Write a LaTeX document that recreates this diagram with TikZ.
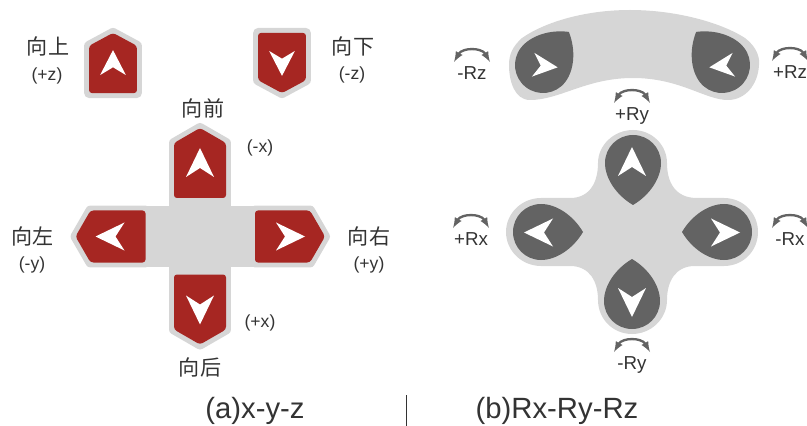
\documentclass[tikz,border=0pt]{standalone}
\usepackage{fontspec}
\setmainfont{Liberation Sans}
\newfontfamily\cjk{Noto Sans CJK SC}
\usetikzlibrary{arrows}
\definecolor{keyred}{HTML}{A62622}
\definecolor{keydark}{HTML}{636363}
\definecolor{padgray}{HTML}{D6D6D6}
\definecolor{textgray}{HTML}{333333}
\tikzset{
  cnlabel/.style = {font = \cjk\fontsize{18}{18}\selectfont, text = textgray, inner sep = 0},
  axislabel/.style = {font = \fontsize{15}{15}\selectfont, text = textgray, inner sep = 0},
  rotlabel/.style = {font = \fontsize{16}{16}\selectfont, text = textgray, inner sep = 0, text height = 10pt, text depth = 0pt},
  caption/.style = {font = \fontsize{25}{25}\selectfont, text = textgray, inner sep = 0},
  rotarrow/.style = {draw = keydark, line width = 2pt, <->, >=latex, bend left = 60, looseness = 1.2},
  glyph/.pic = {\fill[white] (0, -15) -- (14, 14) -- (0, 5) -- (-14, 14) -- cycle;},
  redkey/.pic = {
    \draw[padgray, line width = 8.5pt, line join = round] (0, -35) -- (26, -20) -- (26, 35) -- (-26, 35) -- (-26, -20) -- cycle;
    \fill[keyred, rounded corners = 2.5pt] (0, -35) -- (26, -20) -- (26, 35) -- (-26, 35) -- (-26, -20) -- cycle;
    \fill[white] (0, -15) -- (14, 14) -- (0, 5) -- (-14, 14) -- cycle;
  },
  drop/.pic = {\fill[keydark] (0, 42) .. controls (-17, 32) and (-28, 15) .. (-28, 0) .. controls (-28, -15.5) and (-15.5, -28) .. (0, -28) .. controls (15.5, -28) and (28, -15.5) .. (28, 0) .. controls (28, 15) and (17, 32) .. (0, 42);}
}
\begin{document}
\begin{tikzpicture}[x = 0.03cm, y = -0.03cm]
  \useasboundingbox (0, 0) rectangle (807, 426);

  \fill[padgray] (145, 206) rectangle (255, 267);
  \fill[padgray] (169, 190) rectangle (231, 283);
  \pic[xscale = 0.92, yscale = 0.86] (keyup) at (113, 63) {redkey};
  \pic[rotate = 180, xscale = 0.92, yscale = 0.86] (keydown) at (282, 63) {redkey};
  \pic (keyfront) at (200, 163) {redkey};
  \pic[rotate = 180] (keyback) at (200, 309.5) {redkey};
  \pic[rotate = 90] (keyleft) at (110.5, 236.5) {redkey};
  \pic[rotate = -90] (keyright) at (290, 236.5) {redkey};

  \node[cnlabel] (up) at (48, 46) {向上};
  \node[axislabel] (upaxis) at (47, 76) {(+z)};
  \node[cnlabel] (down) at (353, 46) {向下};
  \node[axislabel] (downaxis) at (352, 75) {(-z)};
  \node[cnlabel] (front) at (203, 108) {向前};
  \node[axislabel] (frontaxis) at (260, 148) {(-x)};
  \node[cnlabel] (left) at (33, 236) {向左};
  \node[axislabel] (leftaxis) at (32, 265) {(-y)};
  \node[cnlabel] (right) at (369, 236) {向右};
  \node[axislabel] (rightaxis) at (369, 265) {(+y)};
  \node[cnlabel] (back) at (200, 367) {向后};
  \node[axislabel] (backaxis) at (260, 323) {(+x)};

  \fill[padgray] (630, 10) .. controls (675, 10) and (720, 22) .. (745, 38) .. controls (757, 47) and (760, 58) .. (759, 65) .. controls (758, 85) and (745, 100) .. (728, 100) .. controls (705, 100) and (680, 78) .. (633, 78) .. controls (586, 78) and (560, 100) .. (530, 100) .. controls (515, 100) and (509, 82) .. (509, 65) .. controls (509, 55) and (512, 47) .. (522, 38) .. controls (545, 22) and (585, 10) .. (630, 10);
  \pic[rotate = 142] (dropzminus) at (543, 65) {drop};
  \pic[rotate = -142] (dropzplus) at (722, 65) {drop};
  \pic[rotate = -96, scale = 0.85] (glyphzminus) at (545, 66) {glyph};
  \pic[rotate = 96, scale = 0.85] (glyphzplus) at (722, 66) {glyph};

  \fill[padgray] (633, 130) .. controls (652, 130) and (667, 145) .. (667, 163) .. controls (667, 182) and (675, 198) .. (697, 198) -- (724, 198) .. controls (743, 198) and (758, 213) .. (758, 232) .. controls (758, 251) and (743, 266) .. (724, 266) -- (695, 266) .. controls (675, 266) and (667, 282) .. (667, 300) .. controls (667, 319) and (651, 334) .. (632, 334) .. controls (613, 334) and (598, 319) .. (598, 300) .. controls (598, 282) and (590, 266) .. (570, 266) -- (541, 266) .. controls (522, 266) and (506, 251) .. (506, 232) .. controls (506, 213) and (522, 198) .. (541, 198) -- (570, 198) .. controls (590, 198) and (598, 182) .. (598, 163) .. controls (598, 145) and (614, 130) .. (633, 130);
  \pic (dropyplus) at (633, 163) {drop};
  \pic[rotate = 180] (dropyminus) at (632, 301) {drop};
  \pic[rotate = 90] (dropxplus) at (541, 232) {drop};
  \pic[rotate = -90] (dropxminus) at (724, 232) {drop};
  \pic (glyphyplus) at (632, 162) {glyph};
  \pic[rotate = 180] (glyphyminus) at (632, 302) {glyph};
  \pic[rotate = 90] (glyphxplus) at (539, 232.5) {glyph};
  \pic[rotate = -90] (glyphxminus) at (725, 232.5) {glyph};

  \node[rotlabel] (rzminus) at (472, 74) {-Rz};
  \node[rotlabel] (rzplus) at (790, 73) {+Rz};
  \node[rotlabel] (ryplus) at (632, 115) {+Ry};
  \node[rotlabel] (ryminus) at (632, 364) {-Ry};
  \node[rotlabel] (rxplus) at (471, 240) {+Rx};
  \node[rotlabel] (rxminus) at (790, 240) {-Rx};
  \foreach \n in {rzminus, rzplus, ryplus, ryminus, rxplus, rxminus}
    \draw[rotarrow] ([shift = {(-18, -12)}]\n.center) to ([shift = {(18, -12)}]\n.center);

  \node[caption] (capa) at (255, 411) {(a)x-y-z};
  \node[caption] (capb) at (557, 411) {(b)Rx-Ry-Rz};
  \coordinate (septop) at (406, 395);
  \coordinate (sepbot) at (406, 426);
  \draw[textgray, line width = 0.8pt] (septop) -- (sepbot);
\end{tikzpicture}
\end{document}
